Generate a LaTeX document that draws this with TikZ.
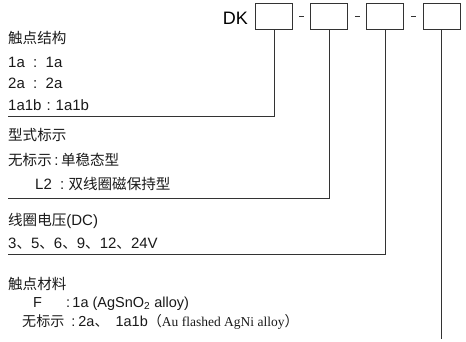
\documentclass[tikz,border=0pt]{standalone}
\usepackage{fontspec}
\setmainfont{Liberation Sans}
\newfontfamily\cjk[Scale=0.97]{Noto Sans CJK SC}
\newfontfamily\serifpart{Liberation Serif}
\usetikzlibrary{calc}
\begin{document}
\begin{tikzpicture}[x=1pt,y=-1pt,
  codebox/.style={draw=black!80,line width=0.8pt,minimum width=37pt,minimum height=26pt,inner sep=0pt},
  leader/.style={draw=black!80,line width=0.8pt},
  txt/.style={anchor=west,inner sep=0pt,font=\fontsize{15}{17}\selectfont,text=black!90},
  stxt/.style={anchor=west,inner sep=0pt,font=\fontsize{14.5}{16}\selectfont,text=black!90}]
\useasboundingbox (0,0) rectangle (466,341);
% header
\node[anchor=east,inner sep=0pt,font=\fontsize{18}{20}\selectfont] (dk) at (248,18) {DK};
\node[codebox] (b1) at (274.2,16.3) {};
\node[codebox] (b2) at (329.2,16.3) {};
\node[codebox] (b3) at (385.3,16.3) {};
\node[codebox] (b4) at (441.7,16.3) {};
\draw[leader] ($(b1.east)!0.5!(b2.west)+(-2.5,0)$) -- ++(5,0);
\draw[leader] ($(b2.east)!0.5!(b3.west)+(-2.5,0)$) -- ++(5,0);
\draw[leader] ($(b3.east)!0.5!(b4.west)+(-2.5,0)$) -- ++(5,0);
% section 1
\node[txt] (s1t) at (8,38) {\cjk 触点结构};
\node[txt] (s1a) at (8,62) {1a\ \ :\ \ 1a};
\node[txt] (s1b) at (8,83.5) {2a\ \ :\ \ 2a};
\node[txt] (s1c) at (8,105) {1a1b\,\,:\,\,1a1b};
\coordinate (l1) at (8,116.5);
\draw[leader] (b1.south) |- (l1);
% section 2
\node[txt] (s2t) at (8,135) {\cjk 型式标示};
\node[txt] (s2a) at (8,160) {{\cjk 无标示}\,:\,{\cjk 单稳态型}};
\node[txt] (s2b) at (35,184) {L2\ \ :\ {\cjk 双线圈磁保持型}};
\coordinate (l2) at (8,198.5);
\draw[leader] (b2.south) |- (l2);
% section 3
\node[txt] (s3t) at (8,221) {{\cjk 线圈电压}(DC)};
\node[txt] (s3a) at (8,243.5) {3{\cjk 、}5{\cjk 、}6{\cjk 、}9{\cjk 、}12{\cjk 、}24V};
\coordinate (l3) at (8,254.5);
\draw[leader] (b3.south) |- (l3);
% section 4
\node[txt] (s4t) at (8,284) {\cjk 触点材料};
\node[stxt] (s4a) at (33,304) {F\hspace{24pt}:\,1a (AgSnO\textsubscript{2} alloy)};
\node[stxt] (s4b) at (22,321.5) {{\cjk 无标示}\hspace{7pt}:\hspace{3pt}2a{\cjk 、}\hspace{7pt}1a1b{\cjk （}{\serifpart\fontsize{13.5}{16}\selectfont Au flashed AgNi alloy}{\cjk ）}};
\coordinate (l4) at (441.7,339);
\draw[leader] (b4.south) -- (l4);
\end{tikzpicture}
\end{document}
